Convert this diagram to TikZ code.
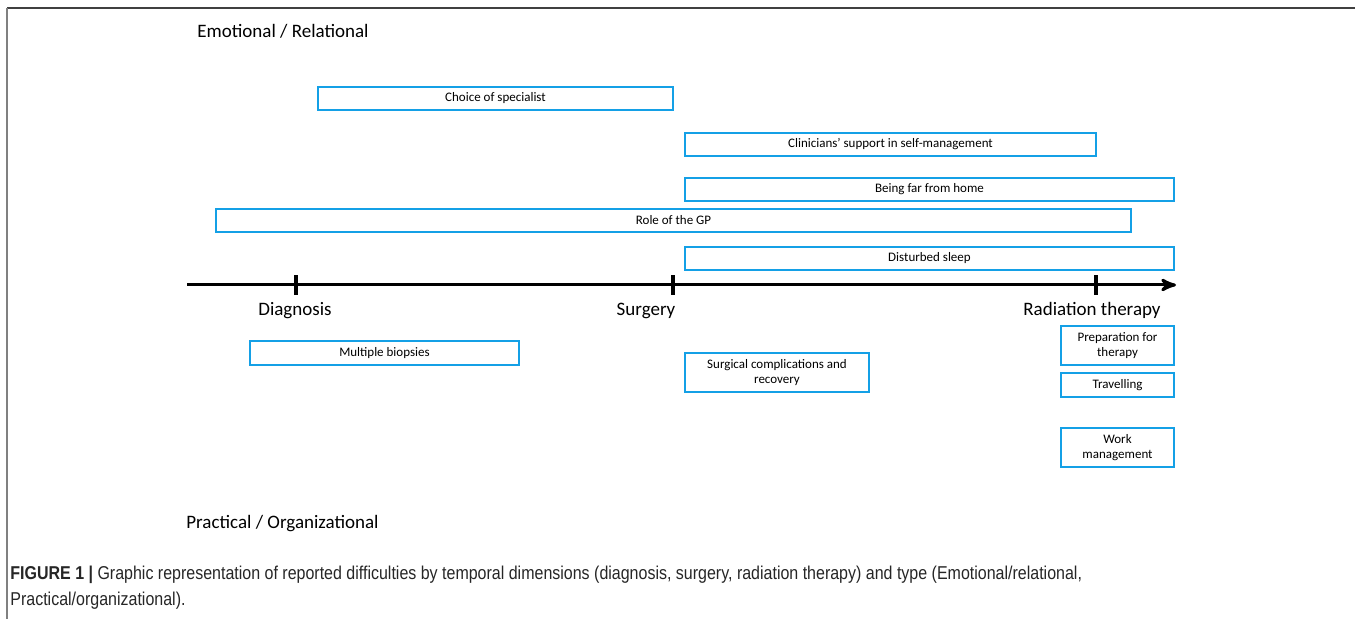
\documentclass[tikz,border=0pt]{standalone}
\usepackage{fontspec}
\setmainfont{Carlito}
\newfontfamily\capfont[FakeStretch=0.86]{Liberation Sans}
\usetikzlibrary{arrows}
\definecolor{boxblue}{RGB}{20,160,230}

\begin{document}
\begin{tikzpicture}[x=0.5pt,y=-0.5pt,>=stealth',
    issue/.style={draw=boxblue,line width=1pt,inner sep=0pt,minimum height=11.5pt,
      align=center,font=\fontsize{6.5}{7.5}\selectfont},
    phase/.style={anchor=base,inner sep=0pt,font=\fontsize{9.5}{11}\selectfont},
    tickmark/.style={fill=black,inner sep=0pt,minimum width=2.4pt,minimum height=10pt}]
  \useasboundingbox (0,0) rectangle (1355,619);
  \draw[black!75,line width=1pt] (1355,8) -- (7,8);
  \draw[black!50,line width=1pt] (7,8) -- (7,619);

  \node[phase,anchor=base west] (emo) at (197,38) {Emotional / Relational};
  \node[phase,anchor=base west] (prac) at (186,529) {Practical / Organizational};

  \coordinate (t0) at (187,285);
  \coordinate (t1) at (1176,285);
  \draw[->,line width=1.5pt] (t0) -- (t1);
  \node[tickmark] (diag) at (296,285) {};
  \node[tickmark] (surg) at (673,285) {};
  \node[tickmark] (rad) at (1096,285) {};
  \node[phase] (l1) at (295,316) {Diagnosis};
  \node[phase] (l2) at (646,316) {Surgery};
  \node[phase] (l3) at (1092,316) {Radiation therapy};

  \node[issue,minimum width=177.5pt] (e1) at (495.5,98.5) {Choice of specialist};
  \node[issue,minimum width=205.5pt] (e2) at (890.5,144.5) {Clinicians’ support in self-management};
  \node[issue,minimum width=244.5pt] (e3) at (929.5,189.5) {Being far from home};
  \node[issue,minimum width=457.5pt] (e4) at (673.5,220.5) {Role of the GP};
  \node[issue,minimum width=244.5pt] (e5) at (929.5,258.5) {Disturbed sleep};

  \node[issue,minimum width=134.5pt,minimum height=12pt] (p1) at (384.5,353) {Multiple biopsies};
  \node[issue,minimum width=92pt,minimum height=19.5pt] (p2) at (777,372.5) {Surgical complications and\\recovery};
  \node[issue,minimum width=56.5pt,minimum height=19.5pt] (p3) at (1117.5,345.5) {Preparation for\\therapy};
  \node[issue,minimum width=56.5pt,minimum height=12pt] (p4) at (1117.5,385) {Travelling};
  \node[issue,minimum width=56.5pt,minimum height=19.5pt] (p5) at (1117.5,447.5) {Work\\management};

  \node[anchor=north west,inner sep=0pt,align=left,text=black!85,
    font=\capfont\fontsize{9.3}{13}\selectfont] (cap) at (10,566)
    {\textbf{FIGURE 1 |} Graphic representation of reported difficulties by temporal dimensions (diagnosis, surgery, radiation therapy) and type (Emotional/relational,\\Practical/organizational).};
\end{tikzpicture}
\end{document}
